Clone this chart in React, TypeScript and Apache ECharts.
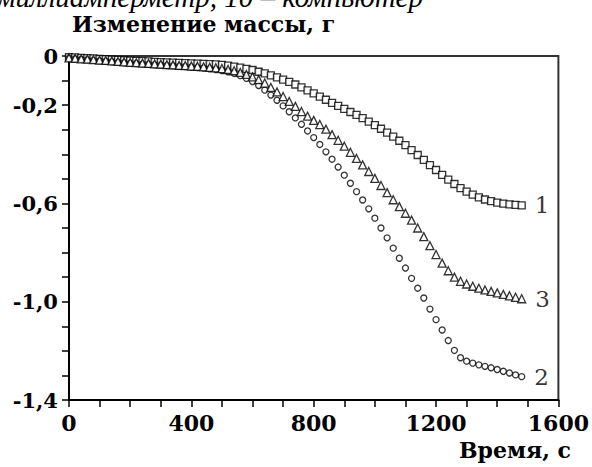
import React, { useEffect, useRef } from "react";
import * as echarts from "echarts";

const times: number[] = [
  0, 20, 40, 60, 80, 100, 120, 140, 160, 180, 200, 220, 240, 260, 280, 300, 320, 340, 360, 380,
  400, 420, 440, 460, 480, 500, 520, 540, 560, 580, 600, 620, 640, 660, 680, 700, 720, 740, 760, 780,
  800, 820, 840, 860, 880, 900, 920, 940, 960, 980, 1000, 1020, 1040, 1060, 1080, 1100, 1120, 1140, 1160, 1180,
  1200, 1220, 1240, 1260, 1280, 1300, 1320, 1340, 1360, 1380, 1400, 1420, 1440, 1460, 1480,
];

const curve1: number[] = [
  -0.005, -0.006, -0.008, -0.009, -0.010, -0.012, -0.013, -0.015, -0.016, -0.018,
  -0.019, -0.020, -0.021, -0.022, -0.024, -0.025, -0.026, -0.027, -0.028, -0.029,
  -0.030, -0.031, -0.032, -0.033, -0.034, -0.036, -0.039, -0.043, -0.047, -0.052,
  -0.057, -0.064, -0.071, -0.079, -0.087, -0.096, -0.105, -0.116, -0.128, -0.140,
  -0.152, -0.165, -0.178, -0.191, -0.203, -0.215, -0.228, -0.240, -0.253, -0.267,
  -0.281, -0.296, -0.312, -0.328, -0.345, -0.363, -0.383, -0.403, -0.423, -0.444,
  -0.464, -0.484, -0.503, -0.521, -0.538, -0.552, -0.564, -0.575, -0.584, -0.591,
  -0.597, -0.601, -0.604, -0.606, -0.608,
];

const curve2: number[] = [
  -0.010, -0.012, -0.014, -0.016, -0.018, -0.020, -0.022, -0.024, -0.026, -0.028,
  -0.030, -0.031, -0.033, -0.034, -0.036, -0.037, -0.039, -0.040, -0.042, -0.043,
  -0.045, -0.047, -0.049, -0.052, -0.055, -0.059, -0.064, -0.071, -0.080, -0.091,
  -0.104, -0.120, -0.139, -0.159, -0.180, -0.203, -0.227, -0.252, -0.278, -0.305,
  -0.332, -0.360, -0.390, -0.420, -0.452, -0.485, -0.518, -0.552, -0.586, -0.622,
  -0.660, -0.700, -0.740, -0.782, -0.823, -0.863, -0.905, -0.945, -0.985, -1.030,
  -1.073, -1.115, -1.158, -1.198, -1.228, -1.242, -1.250, -1.257, -1.263, -1.269,
  -1.276, -1.283, -1.290, -1.298, -1.305,
];

const curve3: number[] = [
  -0.008, -0.010, -0.012, -0.013, -0.015, -0.017, -0.018, -0.020, -0.022, -0.024,
  -0.026, -0.027, -0.029, -0.030, -0.032, -0.033, -0.035, -0.036, -0.038, -0.039,
  -0.041, -0.042, -0.044, -0.046, -0.048, -0.051, -0.055, -0.060, -0.067, -0.075,
  -0.085, -0.096, -0.110, -0.128, -0.146, -0.165, -0.185, -0.205, -0.226, -0.245,
  -0.262, -0.279, -0.298, -0.320, -0.343, -0.367, -0.392, -0.417, -0.443, -0.470,
  -0.498, -0.527, -0.556, -0.585, -0.613, -0.640, -0.668, -0.700, -0.735, -0.772,
  -0.808, -0.843, -0.874, -0.900, -0.917, -0.928, -0.937, -0.945, -0.952, -0.958,
  -0.964, -0.970, -0.976, -0.982, -0.988,
];

const yTickLabels: Record<number, string> = { 0: "0", [-2]: "-0,2", [-6]: "-0,6", [-10]: "-1,0", [-14]: "-1,4" };
const xTickLabels: number[] = [0, 400, 800, 1200, 1600];

const captionText = "миллиамперметр, 10 – компьютер";
const yTitle = "Изменение массы, г";
const xTitle = "Время, с";
const curveNames = ["1", "2", "3"];

const SERIF = "'DejaVu Serif', 'Liberation Serif', serif";
const TIMES = "'Liberation Serif', serif";

function makeSeries(values: number[], name: string, symbol: string, size: number) {
  const last = values.length - 1;
  return {
    type: "scatter",
    name,
    symbol,
    symbolSize: size,
    data: values.map((v, i) => [times[i], v]),
    itemStyle: { color: "#ffffff", borderColor: "#000000", borderWidth: 1.3 },
    label: {
      show: true,
      position: "right",
      distance: 9,
      formatter: (p: any) => (p.dataIndex === last ? name : ""),
      color: "#000",
      fontFamily: SERIF,
      fontSize: 23,
    },
    emphasis: { disabled: true },
    z: 3,
  };
}

export default function App() {
  const ref = useRef<HTMLDivElement>(null);
  useEffect(() => {
    if (!ref.current) return;
    const chart = echarts.init(ref.current, undefined, { renderer: "svg" });
    chart.setOption({
      animation: false,
      backgroundColor: "#ffffff",
      grid: {
        left: 69,
        top: 56,
        right: 33,
        bottom: 67,
        show: true,
        borderColor: "#333",
        borderWidth: 2,
        backgroundColor: "transparent",
      },
      xAxis: {
        type: "value",
        min: 0,
        max: 1600,
        interval: 100,
        splitLine: { show: false },
        axisLine: { show: true, onZero: false, lineStyle: { color: "#000", width: 2 } },
        axisTick: { show: true, inside: false, length: 7, lineStyle: { color: "#000", width: 1.5 } },
        axisLabel: {
          margin: 12,
          color: "#000",
          fontFamily: SERIF,
          fontWeight: "bold",
          fontSize: 22,
          formatter: (v: number) => (xTickLabels.includes(Math.round(v)) ? String(Math.round(v)) : ""),
        },
      },
      yAxis: {
        type: "value",
        min: -1.4,
        max: 0,
        interval: 0.1,
        splitLine: { show: false },
        axisLine: { show: true, onZero: false, lineStyle: { color: "#000", width: 2 } },
        axisTick: { show: true, inside: false, length: 7, lineStyle: { color: "#000", width: 1.5 } },
        axisLabel: {
          margin: 11,
          color: "#000",
          fontFamily: SERIF,
          fontWeight: "bold",
          fontSize: 21,
          formatter: (v: number) => yTickLabels[Math.round(v * 10)] ?? "",
        },
      },
      graphic: [
        {
          type: "text",
          left: -3,
          top: -18,
          style: { text: captionText, font: `italic 29px ${TIMES}`, fill: "#000" },
        },
        {
          type: "text",
          left: 72,
          top: 13,
          style: { text: yTitle, font: `bold 22px ${SERIF}`, fill: "#000" },
        },
        {
          type: "text",
          right: 21,
          top: 439,
          style: { text: xTitle, font: `bold 22px ${SERIF}`, fill: "#000" },
        },
      ],
      series: [
        makeSeries(curve1, curveNames[0], "rect", 7),
        makeSeries(curve2, curveNames[1], "circle", 6),
        makeSeries(curve3, curveNames[2], "triangle", 8),
      ],
    });
    return () => chart.dispose();
  }, []);
  return (
    <div
      ref={ref}
      style={{ position: "fixed", left: 0, top: 0, width: 592, height: 467, background: "#fff" }}
    />
  );
}
